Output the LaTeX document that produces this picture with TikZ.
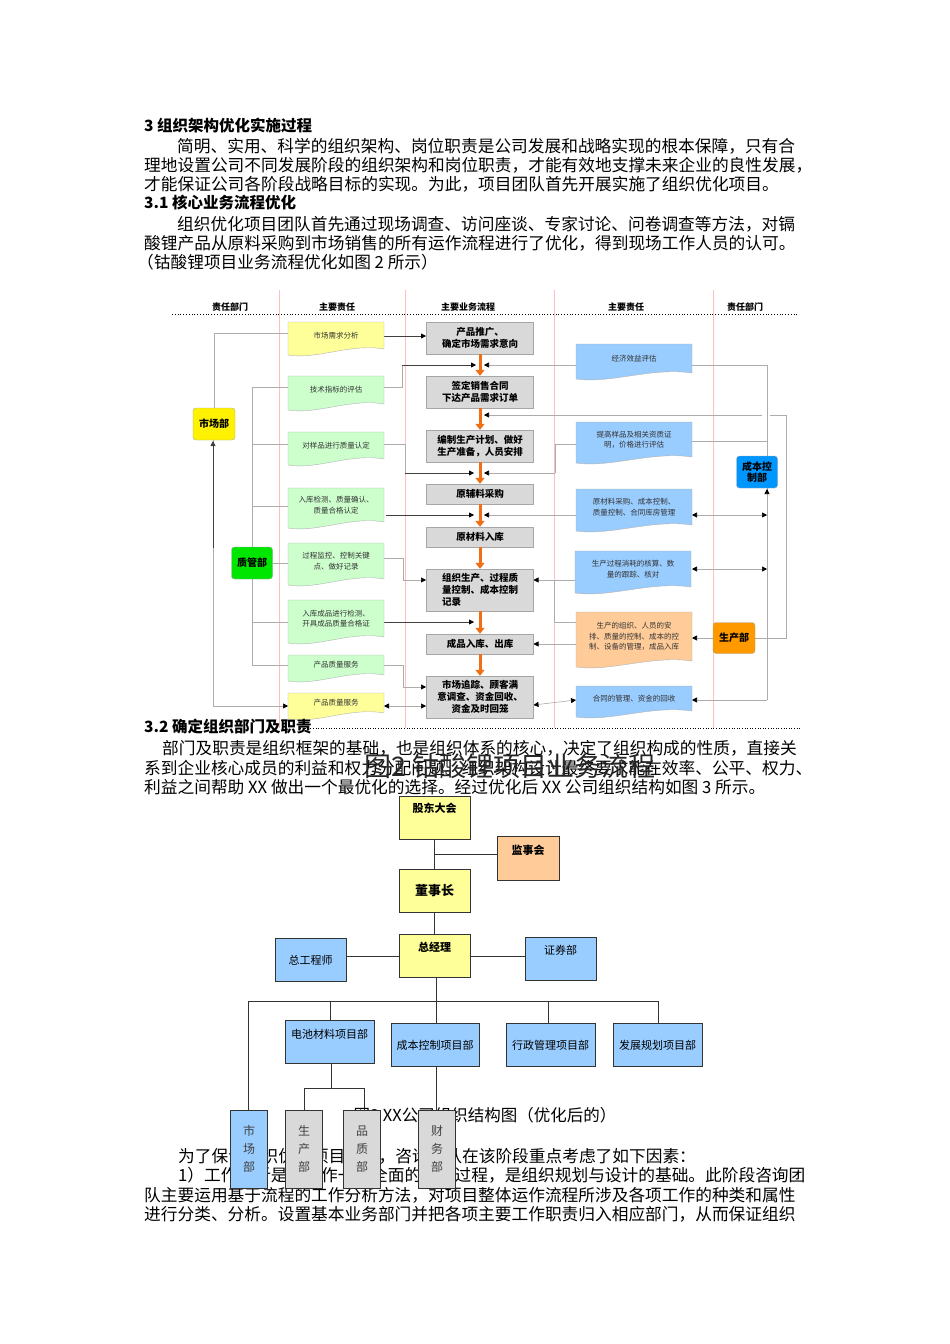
\documentclass[tikz,border=0pt]{standalone}
\usepackage{fontspec}
\setmainfont{Noto Sans CJK SC}
\usetikzlibrary{arrows.meta}
\definecolor{cy}{HTML}{FFFF99}
\definecolor{cg}{HTML}{CCFFCC}
\definecolor{cb}{HTML}{99CCFF}
\definecolor{co}{HTML}{FFCC99}
\definecolor{gb}{HTML}{D9D9D9}
\newcommand\fsz[1]{\fontsize{#1}{#1}\selectfont}
\newcommand\docb[7]{%
 \draw[draw=gray!60,fill=#6,line width=0.4pt] (#2,#3) -- (#4,#3) -- (#4,{#5-6}) .. controls ({#4-0.35*(#4-#2)},{#5-12}) and ({#2+0.3*(#4-#2)},{#5+5}) .. (#2,#5) -- cycle;
 \node[font=\fsz{7.5},align=center,text=black!80] (#1) at ({(#2+#4)/2},{(#3+#5)/2-3}) {#7};}
\tikzset{
 hdr/.style={font=\fsz{9}\bfseries},
 line/.style={font=\fsz{16.7},anchor=west,inner sep=0},
 head/.style={font=\fsz{15.5}\bfseries,anchor=west,inner sep=0},
 gbox/.style={fill=gb,draw=gray!70,font=\fontsize{9.5}{12}\selectfont\bfseries,align=center,inner sep=1pt},
 dept/.style={draw=gray!70,rounded corners=3pt,font=\fontsize{10}{11}\selectfont\bfseries,align=center,inner sep=1pt},
 conn/.style={draw=gray!65,line width=0.6pt},
 dconn/.style={draw=black!75,line width=0.8pt},
 tip/.style={-{Triangle[length=5pt,width=5pt,color=black]}},
 btip/.style={{Triangle[length=5pt,width=5pt,color=black]}-{Triangle[length=5pt,width=5pt,color=black]}},
 oarr/.style={draw={rgb,255:red,240;green,110;blue,20},line width=3pt,-{Triangle[length=6pt,width=9pt]}},
 ob/.style={draw=black!80,line width=0.6pt,font=\fsz{11},align=center,inner sep=1pt},
}
\begin{document}
\begin{tikzpicture}[x=1pt,y=-1pt]
\useasboundingbox (0,0) rectangle (950,1344);
\fill[white] (0,0) rectangle (950,1344);
% ---- text top
\node[head] (h3) at (144,126) {3 组织架构优化实施过程};
\node[line] (l1) at (177,146) {简明、实用、科学的组织架构、岗位职责是公司发展和战略实现的根本保障，只有合};
\node[line] (l2) at (144,165) {理地设置公司不同发展阶段的组织架构和岗位职责，才能有效地支撑未来企业的良性发展，};
\node[line] (l3) at (144,184) {才能保证公司各阶段战略目标的实现。为此，项目团队首先开展实施了组织优化项目。};
\node[head] (h31) at (144,203) {3.1 核心业务流程优化};
\node[line] (l4) at (177,224) {组织优化项目团队首先通过现场调查、访问座谈、专家讨论、问卷调查等方法，对镉};
\node[line] (l5) at (144,243) {酸锂产品从原料采购到市场销售的所有运作流程进行了优化，得到现场工作人员的认可。};
\node[line] (l6) at (137,262) {（钴酸锂项目业务流程优化如图 2 所示）};
% ---- flowchart frame
\foreach \xx in {279,405,554,713} \draw[red!25,line width=0.5pt] (\xx,290) -- (\xx,728);
\draw[dotted,line width=0.8pt] (172,314) -- (797,314);
\node[hdr] (t1) at (230,307) {责任部门};
\node[hdr] (t2) at (337,307) {主要责任};
\node[hdr] (t3) at (468,307) {主要业务流程};
\node[hdr] (t4) at (626,307) {主要责任};
\node[hdr] (t5) at (745,307) {责任部门};
% connectors first (behind boxes)
\draw[conn] (214,408) |- (288,333);
\draw[dconn,tip] (384,336) -- (426,336);
\draw[conn,tip] (213,440) -- (213,706) -- (288,706);
\draw[dconn,-{Triangle[length=5pt,width=5pt]}] (213,548) -- (213,441);
\draw[conn] (252,387) -- (252,547);
\draw[conn] (252,579) -- (252,665);
\foreach \yy in {387,444,506,622,665} \draw[conn] (252,\yy) -- (288,\yy);
\draw[conn] (273,563) -- (288,563);
\draw[conn] (384,387) -- (402,387) -- (402,365);
\draw[dconn,tip] (402,365) -- (476,365);
\draw[conn] (384,444) -- (405,444) -- (405,473);
\draw[dconn,tip] (405,473) -- (474,473);
\draw[dconn,tip] (386,515) -- (474,515);
\draw[conn,tip] (384,558) -- (403,558) -- (403,580) -- (426,580);
\draw[dconn,tip] (384,622) -- (474,622);
\draw[conn,tip] (384,665) -- (403,665) -- (403,687) -- (426,687);
\draw[conn,btip] (384,706) -- (426,706);
\draw[conn,tip] (576,365) -- (484,365);
\draw[conn] (692,365) -- (767,365) -- (767,456);
\draw[conn] (767,488) -- (767,700);
\draw[conn] (692,441) -- (767,441);
\draw[conn,-{Triangle[length=5pt,width=5pt,color=black]}] (767,498) -- (767,489);
\draw[conn,tip] (762,415) -- (484,415);
\draw[conn] (755,638) -- (786,638) -- (786,415) -- (770,415);
\draw[conn] (576,444) -- (555,444) -- (555,473);
\draw[conn,tip] (555,473) -- (484,473);
\draw[conn,tip] (576,515) -- (484,515);
\draw[conn,btip] (692,515) -- (767,515);
\draw[conn,btip] (692,569) -- (767,569);
\draw[conn,tip] (575,580) -- (533.5,580);
\draw[conn] (554,580) -- (554,622) -- (576,622);
\draw[conn,tip] (576,644) -- (533.5,644);
\draw[conn,tip] (713,638) -- (692,638);
\draw[conn,btip] (533.5,705) -- (576,700);
\draw[conn,tip] (767,700) -- (692,700);
% center boxes
\node[gbox,minimum width=107pt,minimum height=32pt] (A) at (480,338) {产品推广、\\确定市场需求意向};
\node[gbox,minimum width=107pt,minimum height=32pt] (B) at (480,392) {签定销售合同\\下达产品需求订单};
\node[gbox,minimum width=107pt,minimum height=32pt] (C) at (480,446) {编制生产计划、做好\\生产准备，人员安排};
\node[gbox,minimum width=107pt,minimum height=20pt] (D) at (480,494) {原辅料采购};
\node[gbox,minimum width=107pt,minimum height=20pt] (E) at (480,537) {原材料入库};
\node[gbox,minimum width=107pt,minimum height=42pt,align=left] (F) at (480,590) {组织生产、过程质\\量控制、成本控制\\记录};
\node[gbox,minimum width=107pt,minimum height=20pt] (G) at (480,644) {成品入库、出库};
\node[gbox,minimum width=107pt,minimum height=42pt] (H) at (480,697) {市场追踪、顾客满\\意调查、资金回收、\\资金及时回笼};
\foreach \a/\b in {A/B,B/C,C/D,D/E,E/F,F/G,G/H} \draw[oarr] (\a.south) -- (\b.north);
% left doc boxes
\docb{L1}{288}{322}{384}{355}{cy}{市场需求分析}
\docb{L2}{288}{376}{384}{410}{cg}{技术指标的评估}
\docb{L3}{288}{432}{384}{465}{cg}{对样品进行质量认定}
\docb{L4}{288}{488}{384}{528}{cg}{入库检测、质量确认、\\[3pt]质量合格认定}
\docb{L5}{288}{543}{384}{585}{cg}{过程监控、控制关键\\[3pt]点、做好记录}
\docb{L6}{288}{600}{384}{643}{cg}{入库成品进行检测、\\[3pt]开具成品质量合格证}
\docb{L7}{288}{655}{384}{681}{cg}{产品质量服务}
\docb{L8}{288}{693}{384}{719}{cy}{产品质量服务}
% right doc boxes
\docb{R1}{576}{344}{692}{379}{cb}{经济效益评估}
\docb{R2}{576}{422}{692}{463}{cb}{提高样品及相关资质证\\[3pt]明，价格进行评估}
\docb{R3}{576}{489}{692}{531}{cb}{原材料采购、成本控制、\\[3pt]质量控制、合同库房管理}
\docb{R4}{575}{551}{691}{593}{cb}{生产过程消耗的核算、数\\[3pt]量的跟踪、核对}
\docb{R5}{576}{612}{692}{667}{co}{生产的组织、人员的安\\[3pt]排、质量的控制、成本的控\\[3pt]制、设备的管理，成品入库}
\docb{R6}{576}{686}{692}{717}{cb}{合同的管理、资金的回收}
% departments
\node[dept,fill=yellow,minimum width=42pt,minimum height=32pt] (MK) at (214,424) {市场部};
\node[dept,fill={rgb,255:red,0;green,230;blue,0},minimum width=41pt,minimum height=32pt] (QM) at (252,563) {质管部};
\node[dept,fill={rgb,255:red,0;green,150;blue,255},minimum width=41pt,minimum height=32pt] (CC) at (757,472) {成本控\\制部};
\node[dept,fill={rgb,255:red,255;green,153;blue,0},minimum width=42pt,minimum height=31pt] (PD) at (734,638) {生产部};
% ---- 3.2
\draw[dotted,line width=0.6pt] (300,728) -- (800,728);
\node[head] (h32) at (144,727) {3.2 确定组织部门及职责};
\node[line] (l7) at (162,748) {部门及职责是组织框架的基础，也是组织体系的核心，决定了组织构成的性质，直接关};
\node[line] (l8) at (144,768) {系到企业核心成员的利益和权力分配问题。组织架构设计最终要求能在效率、公平、权力、};
\node[line] (l9) at (144,787) {利益之间帮助 XX 做出一个最优化的选择。经过优化后 XX 公司组织结构如图 3 所示。};
\node[font=\fsz{27},text=black!85] (cap2) at (510,766) {图2\ 钴酸锂项目业务流程};
% ---- org chart
\draw[black!80] (434.5,840) -- (434.5,870);
\draw[black!80] (434.5,854) -- (497,854);
\draw[black!80] (434.5,913) -- (434.5,935);
\draw[black!80] (346,956) -- (525,956);
\draw[black!80] (436,978) -- (436,1110);
\draw[black!80] (248,1110) -- (248,1001) -- (658,1001);
\draw[black!80] (330,1001) -- (330,1021);
\draw[black!80] (548,1001) -- (548,1024);
\draw[black!80] (658,1001) -- (658,1024);
\draw[black!80] (331,1064) -- (331,1088);
\draw[black!80] (304,1110) -- (304,1088) -- (364,1088) -- (364,1110);
\node[ob,fill=cy,minimum width=71pt,minimum height=43pt,font=\fsz{11}\bfseries] (O1) at (434.5,818) {股东大会\\[10pt]};
\node[ob,fill=co,minimum width=62pt,minimum height=44pt,font=\fsz{11}\bfseries] (O2) at (528,858) {监事会\\[6pt]};
\node[ob,fill=cy,minimum width=71pt,minimum height=43pt,font=\fsz{13}\bfseries] (O3) at (434.5,891) {董事长};
\node[ob,fill=cy,minimum width=71pt,minimum height=43pt,font=\fsz{11}\bfseries] (O4) at (434.5,956) {总经理\\[8pt]};
\node[ob,fill=cb,minimum width=71pt,minimum height=43pt] (O5) at (310.5,960) {总工程师};
\node[ob,fill=cb,minimum width=71pt,minimum height=43pt] (O6) at (560.5,959) {证券部\\[8pt]};
\node[ob,fill=cb,minimum width=89pt,minimum height=43pt] (P1) at (329.5,1042) {电池材料项目部\\[6pt]};
\node[ob,fill=cb,minimum width=88pt,minimum height=43pt] (P2) at (435,1045) {成本控制项目部};
\node[ob,fill=cb,minimum width=89pt,minimum height=43pt] (P3) at (550.5,1045) {行政管理项目部};
\node[ob,fill=cb,minimum width=89pt,minimum height=43pt] (P4) at (657.5,1045) {发展规划项目部};
% caption 3 and following text (behind small boxes)
\node[font=\fsz{16.5},inner sep=0] (cap3) at (485,1115) {图3\ XX公司组织结构图（优化后的）};
\node[line] (l10) at (178,1156) {为了保证组织优化项目成功，咨询团队在该阶段重点考虑了如下因素：};
\node[line] (l11) at (178,1175) {1）工作分析是对工作一个全面的评价过程，是组织规划与设计的基础。此阶段咨询团};
\node[line] (l12) at (144,1195) {队主要运用基于流程的工作分析方法，对项目整体运作流程所涉及各项工作的种类和属性};
\node[line] (l13) at (144,1214) {进行分类、分析。设置基本业务部门并把各项主要工作职责归入相应部门，从而保证组织};
\tikzset{vb/.style={ob,minimum width=37pt,minimum height=78pt,anchor=north,font=\fsz{12},text=black!75}}
\node[vb,fill=cb] (Q1) at (249,1110) {市\\[6pt]场\\[6pt]部};
\node[vb,fill=gb] (Q2) at (304,1110) {生\\[6pt]产\\[6pt]部};
\node[vb,fill=gb] (Q3) at (362,1110) {品\\[6pt]质\\[6pt]部};
\node[vb,fill=gb] (Q4) at (437,1110) {财\\[6pt]务\\[6pt]部};
\end{tikzpicture}
\end{document}
